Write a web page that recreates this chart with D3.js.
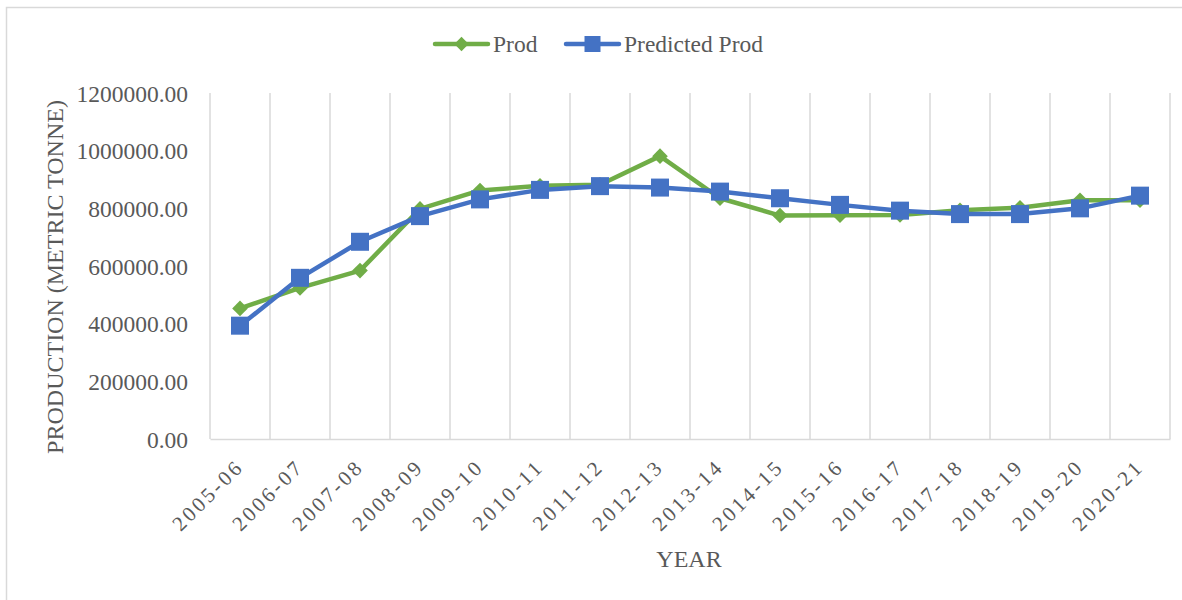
<!DOCTYPE html>
<html>
<head>
<meta charset="utf-8">
<script src="https://cdn.jsdelivr.net/npm/d3@7"></script>
<style>
  body { margin: 0; background: #fff; }
</style>
</head>
<body>
<div id="chart"></div>
<script>
// data
var years = ["2005-06", "2006-07", "2007-08", "2008-09", "2009-10", "2010-11", "2011-12", "2012-13",
  "2013-14", "2014-15", "2015-16", "2016-17", "2017-18", "2018-19", "2019-20", "2020-21"];
var prod = [453000, 524000, 584000, 798000, 862000, 878000, 882000, 981000,
  835000, 775000, 776000, 777000, 793000, 802000, 828000, 828000];
var predicted = [393000, 559000, 684000, 773000, 831000, 864000, 877000, 872000,
  858000, 835000, 812000, 792000, 780000, 780000, 800000, 844000];
var yTicks = [0, 200000, 400000, 600000, 800000, 1000000, 1200000];

var width = 1182, height = 600;
var margins = { top: 93, right: 12, bottom: 161, left: 210 };
var colours = ["#70ad47", "#4472c4"];
var font = "'Liberation Serif', 'Times New Roman', serif";

var svg = d3.select("#chart").append("svg")
  .attr("width", width)
  .attr("height", height);

// chart frame, only its top and left edges fall inside the picture
svg.append("rect")
  .attr("x", 6.5).attr("y", 7.5)
  .attr("width", 1200).attr("height", 620)
  .attr("fill", "#fff")
  .attr("stroke", "#d9d9d9")
  .attr("stroke-width", 1.5);

var chart_width = 960;
var chart_height = height - margins.top - margins.bottom;

var scaleX = d3.scaleBand().domain(years).range([0, chart_width]);
var scaleY = d3.scaleLinear().domain([0, 1200000]).range([chart_height, 0]);

var chart_area = svg.append("g")
  .attr("transform", "translate(" + margins.left + "," + margins.top + ")");

// vertical gridlines at category borders
var borders = years.map(function (d) { return scaleX(d); }).concat([chart_width]);
chart_area.selectAll("line.grid")
  .data(borders)
  .enter().append("line")
  .attr("class", "grid")
  .attr("x1", function (d) { return d; })
  .attr("x2", function (d) { return d; })
  .attr("y1", 0)
  .attr("y2", chart_height)
  .attr("stroke", "#d9d9d9")
  .attr("stroke-width", 1.5);

// x axis
var xAxis = chart_area.append("g")
  .attr("transform", "translate(0," + chart_height + ")")
  .call(d3.axisBottom(scaleX).tickSize(0).tickPadding(0));
xAxis.select(".domain").attr("stroke", "#d9d9d9").attr("stroke-width", 1.5);
xAxis.selectAll("text")
  .attr("font-size", "21px")
  .attr("text-anchor", "end")
  .attr("letter-spacing", "3px")
  .attr("dy", 0)
  .attr("transform", "translate(5,29) rotate(-45)");

// y axis
var yAxis = chart_area.append("g")
  .call(d3.axisLeft(scaleY).tickValues(yTicks).tickSize(0).tickPadding(22)
    .tickFormat(function (d) { return d3.format(".2f")(d); }));
yAxis.select(".domain").remove();
yAxis.selectAll("text").attr("font-size", "23.5px").attr("dy", "0.35em");

// lines
var line = d3.line()
  .x(function (d, i) { return scaleX(years[i]) + scaleX.bandwidth() / 2; })
  .y(function (d) { return scaleY(d); });

var series = [prod, predicted];
chart_area.selectAll("path.line")
  .data(series)
  .enter().append("path")
  .attr("class", "line")
  .attr("d", line)
  .attr("fill", "none")
  .attr("stroke", function (d, i) { return colours[i]; })
  .attr("stroke-width", 4.5)
  .attr("stroke-linejoin", "round");

// markers
var diamond = d3.symbol().type(d3.symbolDiamond2).size(155);
chart_area.selectAll("path.prod-pt")
  .data(prod)
  .enter().append("path")
  .attr("class", "prod-pt")
  .attr("d", diamond)
  .attr("transform", function (d, i) {
    return "translate(" + (scaleX(years[i]) + scaleX.bandwidth() / 2) + "," + scaleY(d) + ")";
  })
  .attr("fill", colours[0]);

chart_area.selectAll("rect.pred-pt")
  .data(predicted)
  .enter().append("rect")
  .attr("class", "pred-pt")
  .attr("x", function (d, i) { return scaleX(years[i]) + scaleX.bandwidth() / 2 - 9; })
  .attr("y", function (d) { return scaleY(d) - 9; })
  .attr("width", 18)
  .attr("height", 18)
  .attr("fill", colours[1]);

// axis titles
svg.append("text")
  .attr("text-anchor", "middle")
  .attr("font-size", "24px")
  .attr("transform", "translate(63,277) rotate(-90)")
  .text("PRODUCTION (METRIC TONNE)");

svg.append("text")
  .attr("text-anchor", "middle")
  .attr("font-size", "24px")
  .attr("x", 689).attr("y", 567)
  .text("YEAR");

// legend
var legends = [
  { name: "Prod", x: 435, colour: colours[0], marker: "diamond" },
  { name: "Predicted Prod", x: 566, colour: colours[1], marker: "square" }
];
var legend = svg.append("g").selectAll("g")
  .data(legends)
  .enter().append("g")
  .attr("transform", function (d) { return "translate(" + d.x + ",44)"; });

legend.append("line")
  .attr("x1", 0).attr("x2", 53)
  .attr("stroke", function (d) { return d.colour; })
  .attr("stroke-width", 4.5)
  .attr("stroke-linecap", "round");

legend.append("path")
  .attr("d", function (d) {
    return d.marker === "diamond" ? d3.symbol().type(d3.symbolDiamond2).size(130)() : "M-8,-8H8V8H-8Z";
  })
  .attr("transform", "translate(26.5,0)")
  .attr("fill", function (d) { return d.colour; });

legend.append("text")
  .attr("x", 58).attr("dy", "0.35em")
  .attr("font-size", "23.5px")
  .text(function (d) { return d.name; });

// same serif font everywhere, set on each text so the axis defaults do not win
svg.selectAll("text")
  .style("font-family", font)
  .attr("fill", "#595959");
</script>
</body>
</html>
